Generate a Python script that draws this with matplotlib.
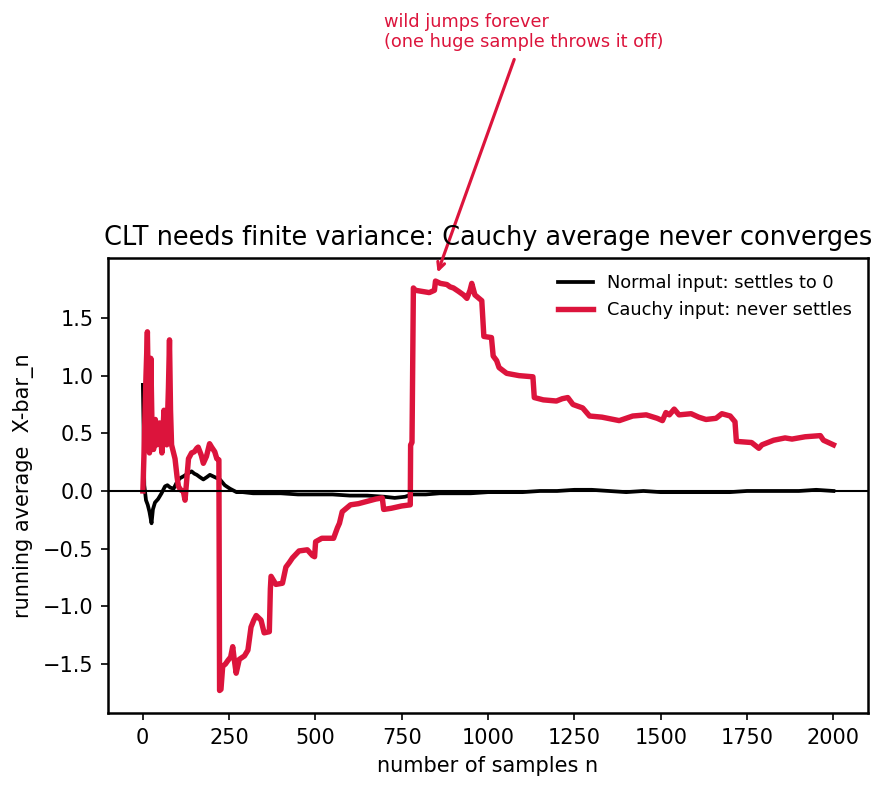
import numpy as np
import matplotlib.pyplot as plt

# Running averages (sample index n, X-bar_n)
normal_n = [1, 3, 5, 10, 15, 20, 26, 30, 36, 45, 55, 65, 72, 80, 90, 100, 108, 120, 130, 142,
            150, 157, 166, 176, 186, 195, 209, 224, 238, 253, 272, 290, 320, 350, 400, 450, 500,
            550, 600, 650, 700, 730, 760, 780, 820, 860, 900, 950, 1000, 1050, 1100, 1150, 1200,
            1250, 1300, 1350, 1400, 1450, 1500, 1550, 1600, 1650, 1700, 1750, 1800, 1850, 1900,
            1950, 2000]
normal_avg = [0.92, 0.55, 0.05, -0.08, -0.12, -0.18, -0.28, -0.16, -0.10, -0.07, -0.02, 0.04,
              0.05, 0.03, 0.02, 0.08, 0.11, 0.13, 0.15, 0.17, 0.15, 0.14, 0.12, 0.10, 0.12, 0.14,
              0.12, 0.10, 0.05, 0.02, -0.01, -0.01, -0.02, -0.02, -0.02, -0.03, -0.03, -0.03,
              -0.04, -0.04, -0.05, -0.06, -0.05, -0.03, -0.03, -0.02, -0.02, -0.02, -0.01, -0.01,
              -0.01, 0.0, 0.0, 0.01, 0.01, 0.0, -0.01, 0.0, -0.01, -0.01, -0.01, -0.01, -0.01,
              0.0, 0.0, 0.0, 0.0, 0.01, 0.0]

cauchy_n = [1, 4, 10, 14, 17, 20, 24, 28, 32, 37, 41, 45, 49, 56, 62, 66, 70, 75, 78, 81, 84,
            94, 100, 104, 110, 118, 123, 128, 133, 142, 150, 157, 161, 170, 176, 185, 194, 200,
            209, 215, 221, 223, 227, 232, 240, 247, 255, 261, 265, 271, 280, 295, 305, 314, 322,
            329, 343, 352, 367, 370, 372, 386, 405, 415, 425, 434, 453, 477, 492, 498, 501, 519,
            553, 564, 570, 578, 602, 625, 650, 675, 694, 698, 720, 750, 775, 776, 780, 784, 790,
            810, 830, 845, 848, 862, 881, 890, 900, 915, 929, 939, 948, 953, 962, 982, 988,
            1010, 1015, 1025, 1032, 1054, 1090, 1130, 1134, 1160, 1198, 1215, 1231, 1246, 1274,
            1294, 1330, 1380, 1419, 1458, 1490, 1505, 1515, 1525, 1539, 1553, 1588, 1610, 1631,
            1660, 1677, 1701, 1715, 1719, 1763, 1784, 1793, 1827, 1860, 1880, 1918, 1962, 1971,
            2000]
cauchy_avg = [0.0, 0.3, 1.0, 1.38, 0.8, 0.33, 1.15, 0.45, 0.36, 0.62, 0.40, 0.55, 0.59, 0.33,
              0.70, 0.60, 0.40, 0.9, 1.31, 0.7, 0.40, 0.28, 0.12, 0.04, 0.01, 0.0, -0.08, 0.1,
              0.28, 0.33, 0.34, 0.37, 0.38, 0.31, 0.24, 0.30, 0.41, 0.38, 0.34, 0.28, 0.27,
              -1.73, -1.72, -1.52, -1.50, -1.47, -1.44, -1.35, -1.45, -1.58, -1.46, -1.43,
              -1.38, -1.18, -1.12, -1.08, -1.12, -1.23, -1.22, -0.85, -0.74, -0.81, -0.80,
              -0.66, -0.62, -0.58, -0.52, -0.51, -0.56, -0.57, -0.44, -0.41, -0.41, -0.32,
              -0.28, -0.18, -0.12, -0.11, -0.09, -0.07, -0.06, -0.16, -0.15, -0.13, -0.12, 0.40,
              0.42, 1.76, 1.74, 1.73, 1.72, 1.74, 1.82, 1.80, 1.79, 1.77, 1.76, 1.73, 1.70,
              1.67, 1.74, 1.80, 1.70, 1.65, 1.34, 1.33, 1.17, 1.13, 1.07, 1.02, 1.00, 0.99,
              0.81, 0.79, 0.78, 0.80, 0.81, 0.75, 0.72, 0.65, 0.64, 0.61, 0.65, 0.66, 0.63,
              0.61, 0.68, 0.66, 0.71, 0.66, 0.67, 0.64, 0.62, 0.63, 0.67, 0.65, 0.60, 0.43,
              0.42, 0.37, 0.40, 0.44, 0.46, 0.45, 0.47, 0.48, 0.44, 0.40]

crimson = "#DC143C"

fig = plt.figure(figsize=(886 / 150, 788 / 150), dpi=150)
ax = fig.add_axes([108 / 886, 75 / 788, 760 / 886, 455 / 788])

ax.plot(normal_n, normal_avg, color="black", lw=1.8, label="Normal input: settles to 0")
ax.plot(cauchy_n, cauchy_avg, color=crimson, lw=2.6, label="Cauchy input: never settles")
ax.axhline(0, color="black", lw=1.0)

ax.set_xlim(-100, 2100)
ax.set_ylim(-1.925, 2.02)
ax.set_xticks(np.arange(0, 2001, 250))
ax.set_yticks([-1.5, -1.0, -0.5, 0.0, 0.5, 1.0, 1.5])
for sp in ax.spines.values():
    sp.set_linewidth(1.2)

ax.set_title("CLT needs finite variance: Cauchy average never converges", fontsize=12.3)
ax.set_xlabel("number of samples n")
ax.set_ylabel("running average  X-bar_n")
ax.legend(loc="upper right", frameon=False, fontsize=8.5)

# annotation sits well above the axes
ax.annotate("wild jumps forever\n(one huge sample throws it off)",
            xy=(850, 1.86), xytext=(700, 3.98), ha="left", va="center",
            fontsize=8.5, color=crimson,
            arrowprops=dict(arrowstyle="->", color=crimson, lw=1.5))

fig.savefig("out.png", dpi=150)
